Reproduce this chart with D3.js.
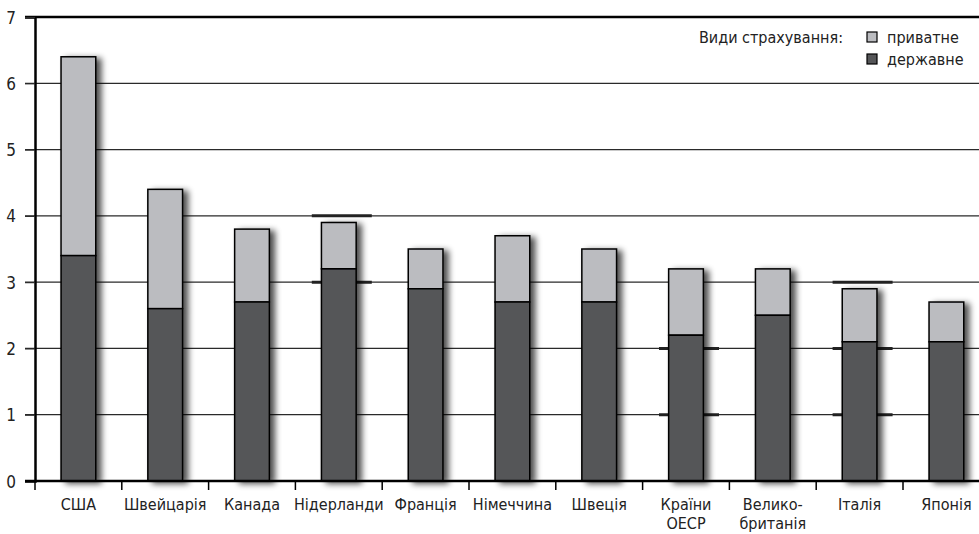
<!DOCTYPE html>
<html>
<head>
<meta charset="utf-8">
<script src="https://cdn.jsdelivr.net/npm/d3@7"></script>
<style>
  body { margin: 0; background: #fff; }
  svg { display: block; font-family: "DejaVu Sans Condensed", "DejaVu Sans", sans-serif; }
</style>
</head>
<body>
<svg></svg>
<script>
let width = 979;
let height = 534;

let countries = ["США", "Швейцарія", "Канада", "Нідерланди", "Франція", "Німеччина",
                 "Швеція", "Країни|ОЕСР", "Велико-|британія", "Італія", "Японія"];
let publicVals = [3.4, 2.6, 2.7, 3.2, 2.9, 2.7, 2.7, 2.2, 2.5, 2.1, 2.1];
let totalVals  = [6.4, 4.4, 3.8, 3.9, 3.5, 3.7, 3.5, 3.2, 3.2, 2.9, 2.7];
let yTicks = [0, 1, 2, 3, 4, 5, 6, 7];
// darker bits of gridline seen around some bars
let accents = [["Нідерланди", 4], ["Нідерланди", 3], ["Країни|ОЕСР", 2], ["Країни|ОЕСР", 1],
               ["Італія", 3], ["Італія", 2], ["Італія", 1]];

let svg = d3.select("svg").attr("width", width).attr("height", height);

let x0 = 35, bandW = 86.8;
let xScale = d3.scaleBand()
               .domain(countries)
               .range([x0, x0 + bandW * countries.length])
               .paddingInner(0.6)
               .paddingOuter(0.3);
let mid = d => xScale(d) + xScale.bandwidth() / 2;

let yScale = d3.scaleLinear()
               .domain([0, 7])
               .range([481, 17]);

let defs = svg.append("defs");
let f = defs.append("filter").attr("id", "shadow")
            .attr("x", "-20%").attr("y", "-5%").attr("width", "160%").attr("height", "115%");
f.append("feGaussianBlur").attr("in", "SourceAlpha").attr("stdDeviation", 3).attr("result", "b");
f.append("feOffset").attr("in", "b").attr("dx", 5).attr("dy", 2).attr("result", "o");
f.append("feComponentTransfer").attr("in", "o").attr("result", "o2")
 .append("feFuncA").attr("type", "linear").attr("slope", 0.7);
let m = f.append("feMerge");
m.append("feMergeNode").attr("in", "o2");
m.append("feMergeNode").attr("in", "SourceGraphic");

// gridlines
svg.append("g")
   .selectAll("line")
   .data(yTicks.filter(d => d > 0 && d < 7))
   .enter()
   .append("line")
   .attr("x1", x0 - 10).attr("x2", width)
   .attr("y1", d => yScale(d)).attr("y2", d => yScale(d))
   .attr("stroke", "#2a2a2a").attr("stroke-width", 1.2);

svg.append("g")
   .selectAll("line")
   .data(accents)
   .enter()
   .append("line")
   .attr("x1", d => mid(d[0]) - 27).attr("x2", d => mid(d[0]) + 33)
   .attr("y1", d => yScale(d[1])).attr("y2", d => yScale(d[1]))
   .attr("stroke", "#222").attr("stroke-width", 3);

// top border
svg.append("line")
   .attr("x1", x0 - 10).attr("x2", width)
   .attr("y1", yScale(7)).attr("y2", yScale(7))
   .attr("stroke", "#000").attr("stroke-width", 2.5);

// bars
let bars = svg.append("g").selectAll("g")
  .data(countries)
  .enter()
  .append("g")
  .attr("filter", "url(#shadow)");

bars.append("rect")
  .attr("x", d => xScale(d))
  .attr("width", xScale.bandwidth())
  .attr("y", (d, i) => yScale(totalVals[i]))
  .attr("height", (d, i) => yScale(publicVals[i]) - yScale(totalVals[i]))
  .attr("fill", "#bbbcc0")
  .attr("stroke", "#000").attr("stroke-width", 1.5);

bars.append("rect")
  .attr("x", d => xScale(d))
  .attr("width", xScale.bandwidth())
  .attr("y", (d, i) => yScale(publicVals[i]))
  .attr("height", (d, i) => yScale(0) - yScale(publicVals[i]))
  .attr("fill", "#555658")
  .attr("stroke", "#000").attr("stroke-width", 1.5);

// y axis
let yAxis = svg.append("g")
   .attr("transform", "translate(" + x0 + ",0)")
   .call(d3.axisLeft(yScale).tickValues(yTicks).tickSize(10).tickFormat(d3.format("d")));
yAxis.select(".domain").attr("stroke", "#000").attr("stroke-width", 2.5);
yAxis.selectAll(".tick line").attr("stroke", "#2a2a2a").attr("stroke-width", 1.2);
yAxis.selectAll(".tick text").attr("x", -19).attr("dy", "0.36em").attr("font-size", 17).attr("fill", "#222")
     .attr("font-family", "DejaVu Sans Condensed, DejaVu Sans, sans-serif");

// x axis
let xTickPos = d3.range(countries.length + 1).map(i => x0 + i * bandW);
let xa = svg.append("g");
xa.append("line")
  .attr("x1", x0 - 10).attr("x2", width)
  .attr("y1", yScale(0)).attr("y2", yScale(0))
  .attr("stroke", "#000").attr("stroke-width", 2.5);
xa.selectAll(".xt")
  .data(xTickPos)
  .enter()
  .append("line")
  .attr("class", "xt")
  .attr("x1", d => d).attr("x2", d => d)
  .attr("y1", yScale(0)).attr("y2", yScale(0) + 9)
  .attr("stroke", "#000").attr("stroke-width", 1.5);

let lines = [];
countries.forEach(c => {
  c.split("|").forEach((p, i) => lines.push({ c: c, t: p, i: i }));
});
xa.selectAll(".xl")
  .data(lines)
  .enter()
  .append("text")
  .attr("class", "xl")
  .attr("text-anchor", "middle")
  .attr("font-size", 16)
  .attr("fill", "#222")
  .attr("x", d => mid(d.c))
  .attr("y", d => 510 + d.i * 19)
  .text(d => d.t);

// legend
let lg = svg.append("g");
lg.append("text")
  .attr("x", 843).attr("y", 43)
  .attr("text-anchor", "end")
  .attr("font-size", 16).attr("fill", "#222")
  .text("Види страхування:");
let legItems = [["приватне", "#bbbcc0"], ["державне", "#555658"]];
legItems.forEach((it, i) => {
  lg.append("rect")
    .attr("x", 867).attr("y", 32 + i * 22)
    .attr("width", 10).attr("height", 10)
    .attr("fill", it[1]).attr("stroke", "#000").attr("stroke-width", 1.2);
  lg.append("text")
    .attr("x", 887).attr("y", 43 + i * 22)
    .attr("font-size", 16).attr("fill", "#222")
    .text(it[0]);
});
</script>
</body>
</html>
